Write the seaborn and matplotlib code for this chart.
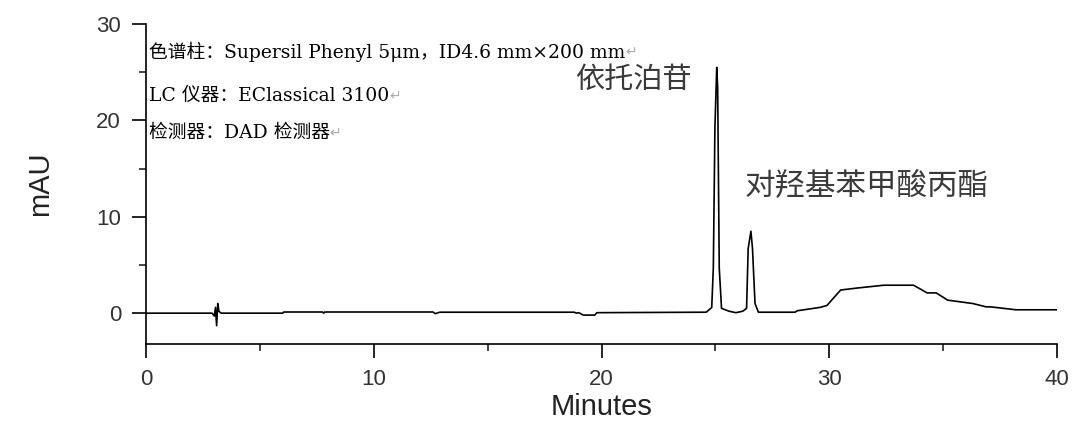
import numpy as np
import pandas as pd
import seaborn as sns
import matplotlib.pyplot as plt
from matplotlib.ticker import MultipleLocator

# chromatogram trace (minutes, mAU)
minutes = [0.0, 2.9, 3.0, 3.05, 3.1, 3.15, 3.2, 3.3, 6.0, 6.05, 7.75, 7.8, 7.85,
           12.6, 12.7, 12.9, 18.8, 18.9, 19.0, 19.2, 19.7, 19.8, 24.6, 24.84,
           24.91, 24.98, 25.06, 25.1, 25.17, 25.27, 25.6, 25.9, 26.2, 26.37,
           26.44, 26.56, 26.63, 26.74, 26.89, 28.5, 28.6, 29.6, 29.9, 30.5,
           31.2, 32.4, 33.7, 34.3, 34.7, 35.2, 36.3, 36.9, 37.1, 38.2, 40.0]
mau = [0.0, 0.0, -0.3, 0.6, -1.3, 1.0, 0.2, 0.0, 0.0, 0.12, 0.12, 0.0, 0.12,
       0.12, -0.05, 0.1, 0.1, 0.0, 0.05, -0.2, -0.2, 0.05, 0.1, 0.6,
       4.7, 19.3, 25.5, 23.4, 4.7, 0.5, 0.2, 0.05, 0.2, 0.5,
       6.7, 8.5, 6.7, 1.0, 0.1, 0.1, 0.25, 0.6, 0.8, 2.4,
       2.6, 2.9, 2.9, 2.1, 2.1, 1.35, 1.0, 0.65, 0.65, 0.35, 0.35]

info_lines = ["色谱柱：Supersil Phenyl 5μm，ID4.6 mm×200 mm",
              "LC 仪器：EClassical 3100",
              "检测器：DAD 检测器"]
peak_names = ["依托泊苷", "对羟基苯甲酸丙酯"]
peak_label_pos = [(18.85, 24.2), (26.3, 13.2)]

df = pd.DataFrame({"Minutes": minutes, "mAU": mau})

sns.set_style("ticks")
plt.rcParams["font.family"] = ["Liberation Sans", "Noto Sans CJK SC", "DejaVu Sans"]

fig = plt.figure(figsize=(10.8, 4.32), dpi=100)
ax = fig.add_axes([0.1352, 0.2037, 0.8435, 0.7407])

sns.lineplot(data=df, x="Minutes", y="mAU", ax=ax, color="black",
             linewidth=1.2, sort=False, estimator=None)

ax.set_xlim(0, 40)
ax.set_ylim(-3.2, 30)
ax.xaxis.set_major_locator(MultipleLocator(10))
ax.xaxis.set_minor_locator(MultipleLocator(5))
ax.yaxis.set_major_locator(MultipleLocator(10))
ax.yaxis.set_minor_locator(MultipleLocator(5))
ax.tick_params(which="major", length=10, width=1.2, labelsize=16, pad=8,
               colors="black", labelcolor="#333333")
ax.tick_params(which="minor", length=5, width=1.2)
for s in ["left", "bottom"]:
    ax.spines[s].set_linewidth(1.2)
    ax.spines[s].set_color("black")
sns.despine(ax=ax)

ax.set_xlabel("Minutes", fontsize=21, color="#222222", labelpad=2)
ax.set_ylabel("mAU", fontsize=21, color="#222222", labelpad=30)

serif = ["DejaVu Serif", "Noto Sans CJK SC"]
for line, yy in zip(info_lines, [0.9125, 0.775, 0.659]):
    t = ax.text(0.003, yy, line, transform=ax.transAxes, fontsize=13.5,
                family=serif, va="center", ha="left", color="black")
    ax.annotate("↵", xy=(1, 0.5), xycoords=t, va="center", ha="left",
                fontsize=10, color="#aaaaaa", family=["DejaVu Sans"])

for name, (px, py) in zip(peak_names, peak_label_pos):
    ax.text(px, py, name, fontsize=21 if len(name) < 5 else 22,
            color="#3a3a3a", va="center", ha="left",
            family=["Noto Sans CJK SC", "DejaVu Sans"])

fig.savefig("out.png", dpi=100)
